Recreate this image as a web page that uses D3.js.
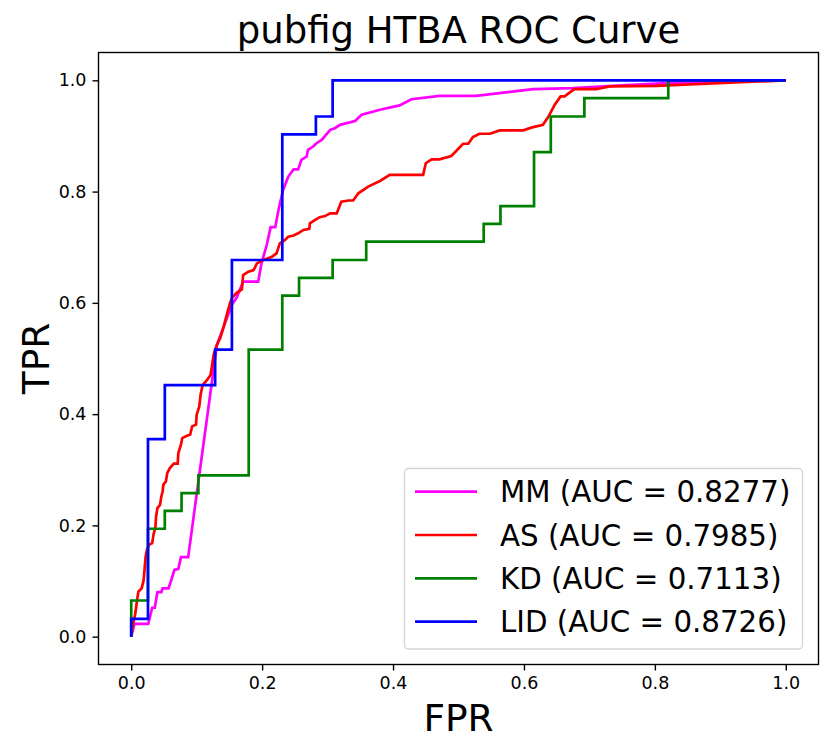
<!DOCTYPE html>
<html>
<head>
<meta charset="utf-8">
<script src="https://cdn.jsdelivr.net/npm/d3@7"></script>
<style>
  html, body { margin: 0; padding: 0; background: #fff; }
  svg { display: block; font-family: "DejaVu Sans", sans-serif; }
</style>
</head>
<body>
<svg id="chart" width="831" height="752"></svg>
<script>
// ---- data ----
const seriesNames = ["MM", "AS", "KD", "LID"];
const aucValues = ["0.8277", "0.7985", "0.7113", "0.8726"];
const seriesColors = ["#ff00ff", "#ff0000", "#008000", "#0000ff"];
const xTicks = [0.0, 0.2, 0.4, 0.6, 0.8, 1.0];
const yTicks = [0.0, 0.2, 0.4, 0.6, 0.8, 1.0];

const mmFpr = [0,0.005,0.026,0.032,0.036,0.040,0.046,0.048,0.057,0.061,0.066,0.072,0.076,0.087,0.101,0.131,0.154,0.161,0.171,0.194,0.199,0.207,0.213,0.220,0.225,0.232,0.240,0.248,0.255,0.260,0.268,0.270,0.278,0.283,0.291,0.304,0.311,0.319,0.342,0.352,0.380,0.410,0.428,0.471,0.527,0.614,0.675,0.736,0.817,1.0];
const mmTpr = [0,0.023,0.023,0.052,0.052,0.080,0.080,0.087,0.087,0.101,0.120,0.122,0.143,0.143,0.265,0.525,0.597,0.609,0.638,0.638,0.671,0.704,0.736,0.736,0.767,0.803,0.827,0.840,0.840,0.857,0.863,0.875,0.881,0.887,0.893,0.911,0.914,0.920,0.927,0.938,0.947,0.955,0.966,0.972,0.972,0.984,0.986,0.990,0.995,1.0];

const asFpr = [0,0.002,0.006,0.009,0.011,0.016,0.019,0.022,0.024,0.027,0.032,0.034,0.037,0.038,0.040,0.044,0.046,0.048,0.049,0.053,0.055,0.059,0.065,0.071,0.072,0.076,0.078,0.085,0.090,0.093,0.099,0.100,0.104,0.106,0.109,0.115,0.121,0.123,0.126,0.130,0.136,0.141,0.146,0.151,0.154,0.161,0.169,0.171,0.179,0.187,0.192,0.200,0.215,0.222,0.227,0.235,0.240,0.248,0.255,0.263,0.272,0.273,0.281,0.288,0.296,0.304,0.314,0.321,0.332,0.339,0.347,0.362,0.380,0.395,0.446,0.450,0.459,0.471,0.489,0.507,0.515,0.522,0.532,0.548,0.563,0.599,0.611,0.629,0.637,0.647,0.656,0.662,0.677,0.710,0.731,0.802,1.0];
const asTpr = [0,0.019,0.040,0.066,0.081,0.087,0.102,0.144,0.156,0.165,0.168,0.183,0.198,0.216,0.231,0.237,0.252,0.261,0.273,0.279,0.294,0.303,0.311,0.311,0.330,0.345,0.357,0.361,0.363,0.378,0.381,0.399,0.414,0.435,0.452,0.460,0.470,0.484,0.507,0.522,0.537,0.556,0.579,0.600,0.609,0.618,0.624,0.650,0.656,0.659,0.671,0.676,0.683,0.689,0.707,0.713,0.719,0.721,0.725,0.731,0.733,0.743,0.749,0.754,0.756,0.761,0.761,0.782,0.784,0.784,0.797,0.809,0.819,0.830,0.830,0.851,0.858,0.858,0.864,0.886,0.886,0.898,0.904,0.904,0.910,0.910,0.915,0.920,0.934,0.956,0.971,0.971,0.984,0.984,0.989,0.990,1.0];

const kdFpr = [0,0,0.0256,0.0256,0.0513,0.0513,0.0769,0.0769,0.1026,0.1026,0.1795,0.1795,0.2308,0.2308,0.2564,0.2564,0.3077,0.3077,0.3590,0.3590,0.5385,0.5385,0.5641,0.5641,0.6154,0.6154,0.6410,0.6410,0.6923,0.6923,0.8205,0.8205,1.0];
const kdTpr = [0,0.065,0.065,0.194,0.194,0.226,0.226,0.258,0.258,0.290,0.290,0.516,0.516,0.613,0.613,0.645,0.645,0.677,0.677,0.710,0.710,0.742,0.742,0.774,0.774,0.871,0.871,0.935,0.935,0.968,0.968,1.0,1.0];

const lidFpr = [0,0,0.0256,0.0256,0.0513,0.0513,0.1282,0.1282,0.1538,0.1538,0.2308,0.2308,0.2821,0.2821,0.3077,0.3077,1.0];
const lidTpr = [0,0.032,0.032,0.355,0.355,0.452,0.452,0.516,0.516,0.677,0.677,0.903,0.903,0.935,0.935,1.0,1.0];

const seriesFpr = [mmFpr, asFpr, kdFpr, lidFpr];
const seriesTpr = [mmTpr, asTpr, kdTpr, lidTpr];

// ---- layout ----
const svg = d3.select("#chart");
const L = 98.5, R = 818.5, T = 52.5, B = 664.5;
const x = d3.scaleLinear().domain([-0.05, 1.05]).range([L, R]);
const y = d3.scaleLinear().domain([-0.05, 1.05]).range([B, T]);

// curves
const line = d3.line().x(d => x(d[0])).y(d => y(d[1]));
const plot = svg.append("g");
seriesNames.forEach((name, i) => {
  const pts = seriesFpr[i].map((f, j) => [f, seriesTpr[i][j]]);
  plot.append("path")
    .attr("d", line(pts))
    .attr("fill", "none")
    .attr("stroke", seriesColors[i])
    .attr("stroke-width", 2.7)
    .attr("stroke-linejoin", "miter")
    .attr("stroke-linecap", "butt");
});

// axes
const xAxis = d3.axisBottom(x).tickValues(xTicks).tickFormat(d3.format(".1f")).tickSizeOuter(0).tickSize(6).tickPadding(6);
const yAxis = d3.axisLeft(y).tickValues(yTicks).tickFormat(d3.format(".1f")).tickSizeOuter(0).tickSize(6).tickPadding(6);
const gx = svg.append("g").attr("transform", `translate(0,${B})`).call(xAxis);
const gy = svg.append("g").attr("transform", `translate(${L},0)`).call(yAxis);
[gx, gy].forEach(g => {
  g.select(".domain").remove();
  g.selectAll(".tick line").attr("stroke", "#000").attr("stroke-width", 1.4);
  g.selectAll(".tick text").attr("fill", "#000").style("font-size", "17.5px").style("font-family", "DejaVu Sans");
});

// frame
svg.append("rect")
  .attr("x", L).attr("y", T).attr("width", R - L).attr("height", B - T)
  .attr("fill", "none").attr("stroke", "#000").attr("stroke-width", 1.4);

// title & labels
svg.append("text").attr("x", (L + R) / 2).attr("y", 43)
  .attr("text-anchor", "middle").style("font-size", "37px").text("pubfig HTBA ROC Curve");
svg.append("text").attr("x", (L + R) / 2).attr("y", 731)
  .attr("text-anchor", "middle").style("font-size", "37.5px").text("FPR");
svg.append("text").attr("transform", `translate(49,${(T + B) / 2}) rotate(-90)`)
  .attr("text-anchor", "middle").style("font-size", "37.5px").text("TPR");

// legend
const lg = svg.append("g");
lg.append("rect").attr("x", 404.5).attr("y", 468.5).attr("width", 398).attr("height", 180.5)
  .attr("rx", 4).attr("fill", "#fff").attr("fill-opacity", 0.8)
  .attr("stroke", "#d6d6d6").attr("stroke-width", 1.4);
seriesNames.forEach((name, i) => {
  const cy = 491.7 + i * 43.3;
  lg.append("line").attr("x1", 415).attr("x2", 477).attr("y1", cy).attr("y2", cy)
    .attr("stroke", seriesColors[i]).attr("stroke-width", 2.7);
  lg.append("text").attr("x", 500).attr("y", cy + 10.5)
    .style("font-size", "29.3px").text(`${name} (AUC = ${aucValues[i]})`);
});
</script>
</body>
</html>
